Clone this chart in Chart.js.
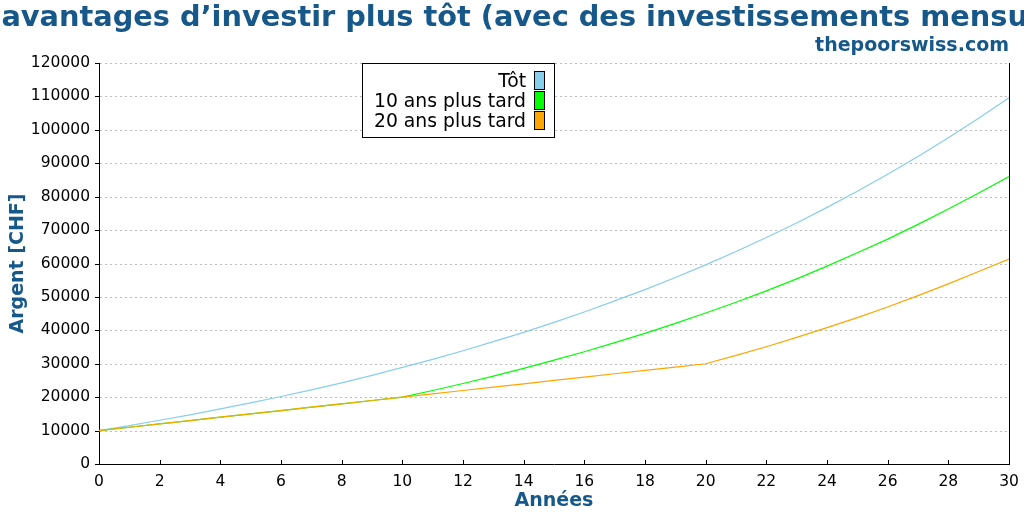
<!DOCTYPE html>
<html>
<head>
<meta charset="utf-8">
<script src="https://cdn.jsdelivr.net/npm/chart.js@4/dist/chart.umd.min.js"></script>
<style>
  html, body { margin: 0; padding: 0; background: #fff; }
  #wrap { width: 1024px; height: 512px; position: relative; }
</style>
</head>
<body>
<div id="wrap"><canvas id="c" width="1024" height="512"></canvas></div>
<script>
// ---- Data ----
const titleText = "Les avantages d\u2019investir plus t\u00f4t (avec des investissements mensuels)";
const subtitleText = "thepoorswiss.com";
const xAxisTitle = "Ann\u00e9es";
const yAxisTitle = "Argent [CHF]";

const years = [0,1,2,3,4,5,6,7,8,9,10,11,12,13,14,15,16,17,18,19,20,21,22,23,24,25,26,27,28,29,30];

const seriesLabels = ["T\u00f4t", "10 ans plus tard", "20 ans plus tard"];

const totValues = [10000,11500,13100,14700,16500,18300,20200,22200,24300,26500,
  28900,31300,33900,36600,39400,42400,45500,48800,52200,55800,
  59600,63600,67800,72100,76800,81600,86700,92000,97600,103500,109600];

const tard10Values = [10000,11000,12000,13000,14000,15000,16000,17000,18000,19000,
  20000,22000,24100,26300,28600,31100,33600,36300,39100,42100,
  45200,48400,51800,55400,59200,63200,67300,71700,76300,81100,86000];

const tard20Values = [10000,11000,12000,13000,14000,15000,16000,17000,18000,19000,
  20000,21000,22000,23000,24000,25000,26000,27000,28000,29000,
  30000,32500,35100,37900,40800,43800,47000,50400,53900,57600,61300];

const seriesColors = ["#87ceeb", "#00ff00", "#ffa500"];

const xMin = 0, xMax = 30, xStep = 2;
const yMin = 0, yMax = 120000, yStep = 10000;

// ---- Styling ----
const BLUE = "#17588a";
const TICK_FONT = { family: "DejaVu Sans", size: 15.5 };

function pts(vals) { return years.map((x, i) => ({ x: x, y: vals[i] })); }

const decor = {
  id: "decor",
  beforeDatasetsDraw(chart) {
    const ctx = chart.ctx;
    const xs = chart.scales.x, ys = chart.scales.y;
    const L = Math.round(xs.left), R = Math.round(xs.right);
    const T = Math.round(ys.top), B = Math.round(ys.bottom);
    ctx.save();
    // dashed horizontal grid lines
    ctx.strokeStyle = "#bdbdbd";
    ctx.lineWidth = 1;
    ctx.setLineDash([2, 3]);
    ys.ticks.forEach(t => {
      if (t.value === yMin) return;
      const py = Math.round(ys.getPixelForValue(t.value)) + 0.5;
      ctx.beginPath();
      ctx.moveTo(L + 1, py);
      ctx.lineTo(R, py);
      ctx.stroke();
    });
    ctx.setLineDash([]);
    // axes / border
    ctx.strokeStyle = "#000";
    ctx.beginPath();
    ctx.moveTo(L + 0.5, T); ctx.lineTo(L + 0.5, B + 1);
    ctx.moveTo(L, B + 0.5); ctx.lineTo(R + 1, B + 0.5);
    ctx.moveTo(R + 0.5, T); ctx.lineTo(R + 0.5, B + 1);
    ctx.stroke();
    // y tick marks (outward)
    ctx.beginPath();
    ys.ticks.forEach(t => {
      const py = Math.round(ys.getPixelForValue(t.value)) + 0.5;
      ctx.moveTo(L - 4, py); ctx.lineTo(L + 1, py);
    });
    // x tick marks (inward)
    xs.ticks.forEach(t => {
      const px = Math.round(xs.getPixelForValue(t.value)) + 0.5;
      ctx.moveTo(px, B + 1); ctx.lineTo(px, B - 4);
    });
    ctx.stroke();
    ctx.restore();
  },
  afterDraw(chart) {
    const ctx = chart.ctx;
    const xs = chart.scales.x, ys = chart.scales.y;
    ctx.save();
    // title
    ctx.fillStyle = BLUE;
    ctx.font = "bold 28.8px 'DejaVu Sans'";
    ctx.textAlign = "center";
    ctx.textBaseline = "alphabetic";
    ctx.fillText(titleText, 512, 26);
    // subtitle
    ctx.font = "bold 19px 'DejaVu Sans'";
    ctx.textAlign = "right";
    ctx.fillText(subtitleText, Math.round(xs.right), 51);
    // x axis title
    ctx.textAlign = "center";
    ctx.fillText(xAxisTitle, (xs.left + xs.right) / 2, 506);
    // y axis title
    ctx.save();
    ctx.translate(22.5, (ys.top + ys.bottom) / 2);
    ctx.rotate(-Math.PI / 2);
    ctx.fillText(yAxisTitle, 0, 0);
    ctx.restore();
    // legend
    const bx = 362.5, by = 63.5, bw = 192, bh = 74;
    ctx.fillStyle = "#fff";
    ctx.fillRect(bx, by, bw, bh);
    ctx.strokeStyle = "#000";
    ctx.lineWidth = 1;
    ctx.strokeRect(bx, by, bw, bh);
    ctx.font = "18.8px 'DejaVu Sans'";
    ctx.textAlign = "right";
    chart.data.datasets.forEach((ds, i) => {
      const base = 87 + 20 * i;
      ctx.fillStyle = "#000";
      ctx.fillText(ds.label, 526, base);
      ctx.fillStyle = ds.borderColor;
      ctx.fillRect(534.5, 71.5 + 20 * i, 10, 18);
      ctx.strokeRect(534.5, 71.5 + 20 * i, 10, 18);
    });
    ctx.restore();
  }
};

new Chart(document.getElementById("c"), {
  type: "line",
  data: {
    datasets: [
      { label: seriesLabels[0], data: pts(totValues), borderColor: seriesColors[0], order: 3 },
      { label: seriesLabels[1], data: pts(tard10Values), borderColor: seriesColors[1], order: 2 },
      { label: seriesLabels[2], data: pts(tard20Values), borderColor: seriesColors[2], order: 1 }
    ].map(d => Object.assign(d, { borderWidth: 1.2, pointRadius: 0, fill: false, tension: 0 }))
  },
  options: {
    responsive: false,
    animation: false,
    devicePixelRatio: 1,
    layout: { padding: { top: 63, right: 15, left: 0, bottom: 0 } },
    plugins: { legend: { display: false }, title: { display: false }, tooltip: { enabled: false } },
    scales: {
      x: {
        type: "linear", min: xMin, max: xMax,
        ticks: { stepSize: xStep, font: TICK_FONT, color: "#000", padding: 5, maxRotation: 0, autoSkip: false,
                 callback: v => String(v) },
        grid: { display: true, drawOnChartArea: false, color: "rgba(0,0,0,0)", tickLength: 4 },
        border: { display: false },
        afterFit: s => { s.height = 48; }
      },
      y: {
        type: "linear", min: yMin, max: yMax,
        ticks: { stepSize: yStep, font: TICK_FONT, color: "#000", padding: 5, autoSkip: false,
                 callback: v => String(v) },
        grid: { display: true, drawOnChartArea: false, color: "rgba(0,0,0,0)", tickLength: 4 },
        border: { display: false },
        afterFit: s => { s.height; s.width = 99; }
      }
    }
  },
  plugins: [decor]
});
</script>
</body>
</html>
